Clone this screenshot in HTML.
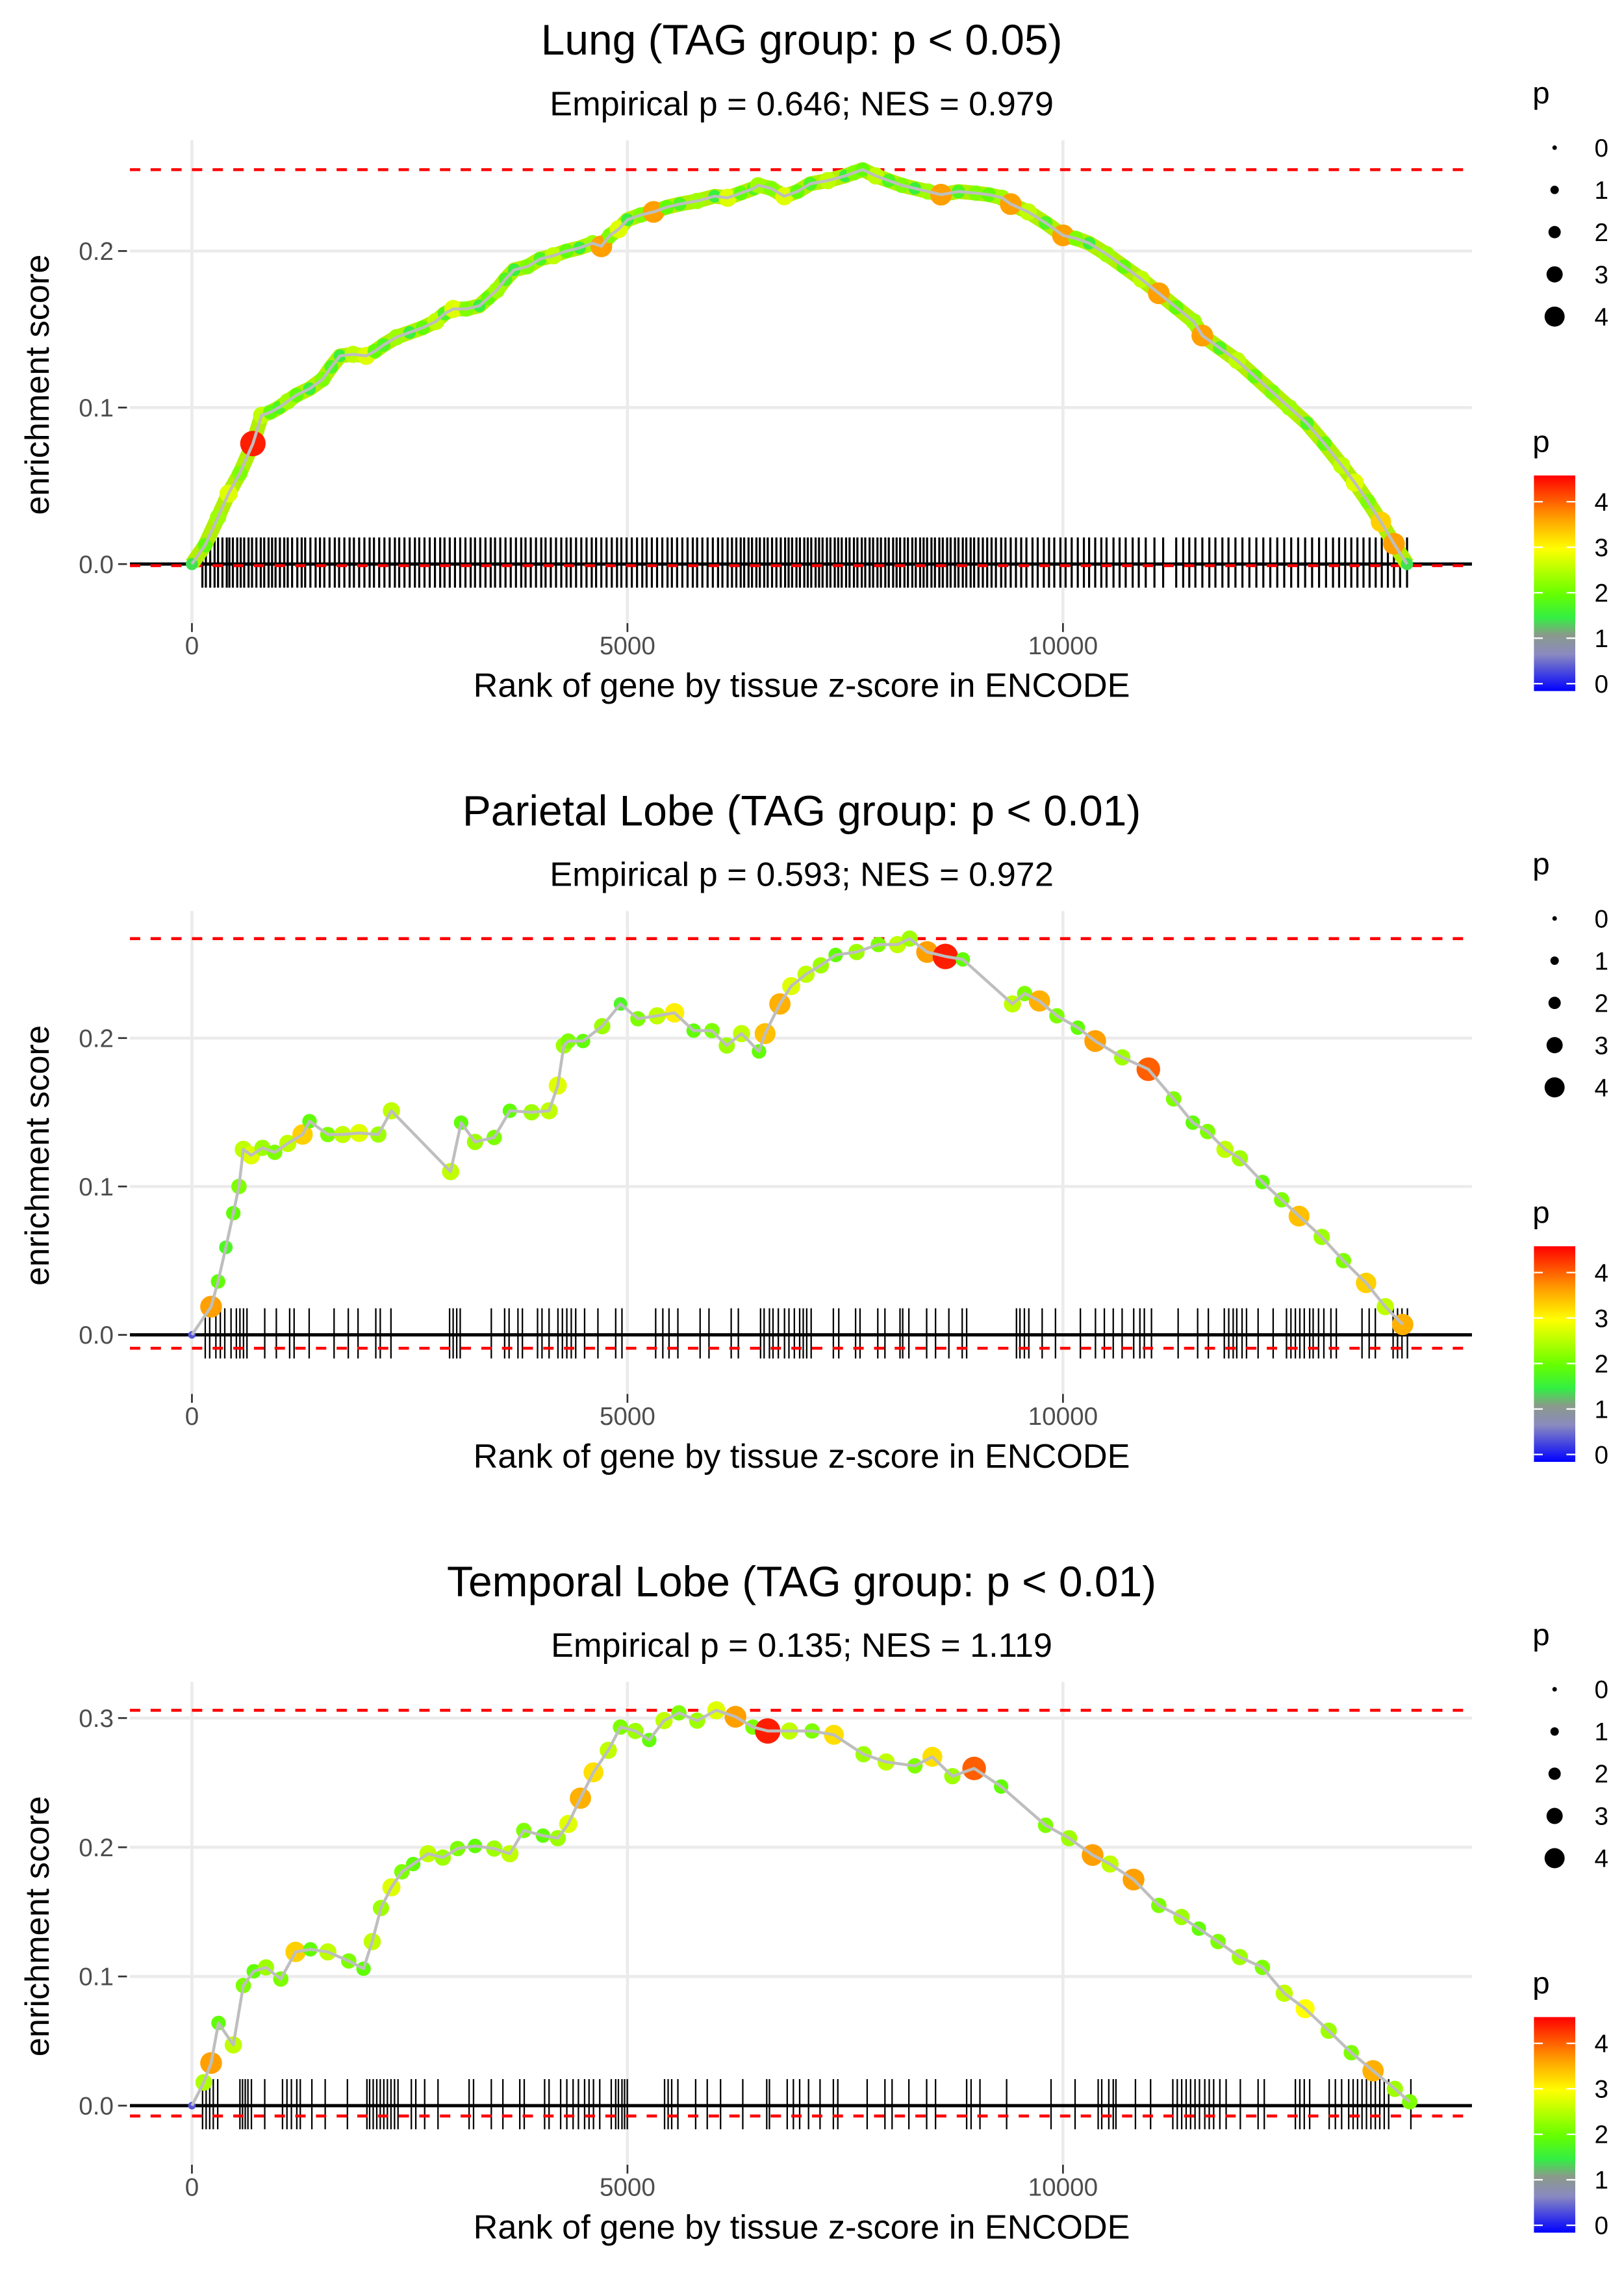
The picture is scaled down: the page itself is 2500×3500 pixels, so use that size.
<!DOCTYPE html>
<html><head><meta charset="utf-8"><style>
html,body{margin:0;padding:0;background:#fff;}
svg{display:block;font-family:"Liberation Sans",sans-serif;}
</style></head><body>
<svg id="root" width="2500" height="3500" viewBox="0 0 1100 1540" xmlns="http://www.w3.org/2000/svg">
<defs>
<linearGradient id="cbar" x1="0" y1="1" x2="0" y2="0">
<stop offset="0" stop-color="#0000ff"/><stop offset="0.17" stop-color="#8a8ac0"/><stop offset="0.26" stop-color="#8a9a8a"/>
<stop offset="0.34" stop-color="#33ee44"/><stop offset="0.45" stop-color="#66ff00"/><stop offset="0.66" stop-color="#ffff00"/>
<stop offset="0.8" stop-color="#ffa000"/><stop offset="1" stop-color="#ff0000"/>
</linearGradient>
</defs>
</svg>
<script>
// ---- data ----
const titles = ["Lung (TAG group: p < 0.05)","Parietal Lobe (TAG group: p < 0.01)","Temporal Lobe (TAG group: p < 0.01)"];
const subtitles = ["Empirical p = 0.646; NES = 0.979","Empirical p = 0.593; NES = 0.972","Empirical p = 0.135; NES = 1.119"];
const xTicks = [0,5000,10000];
const yTicks1 = [0,0.1,0.2];
const yTicks2 = [0,0.1,0.2];
const yTicks3 = [0,0.1,0.2,0.3];
const yTickLabels1 = ["0.0","0.1","0.2"];
const yTickLabels2 = ["0.0","0.1","0.2"];
const yTickLabels3 = ["0.0","0.1","0.2","0.3"];
const esMin = [-0.001,-0.009,-0.008];

const rank1 = [0,150,300,420,550,700,800,900,1000,1100,1200,1350,1500,1600,1700,1850,2000,2100,2200,2350,2500,2650,2800,2900,3000,3150,3300,3400,3500,3600,3700,3850,4000,4150,4300,4450,4600,4700,4800,4900,5000,5150,5300,5450,5600,5800,6000,6150,6300,6450,6500,6650,6800,6950,7100,7300,7500,7600,7700,7850,8000,8150,8300,8450,8600,8800,9000,9150,9300,9400,9600,9800,10000,10150,10300,10500,10700,10900,11100,11300,11500,11600,11800,12000,12200,12400,12600,12800,13000,13200,13350,13500,13650,13800,13950];
const es1 = [0,0.012,0.03,0.045,0.058,0.077,0.095,0.097,0.1,0.104,0.108,0.112,0.118,0.126,0.133,0.134,0.133,0.136,0.14,0.145,0.148,0.151,0.155,0.16,0.163,0.163,0.165,0.17,0.175,0.182,0.188,0.19,0.195,0.197,0.2,0.202,0.205,0.203,0.21,0.214,0.22,0.223,0.225,0.228,0.23,0.232,0.235,0.234,0.237,0.24,0.242,0.24,0.235,0.238,0.243,0.245,0.248,0.25,0.252,0.248,0.245,0.242,0.24,0.238,0.236,0.238,0.237,0.236,0.234,0.23,0.225,0.218,0.21,0.208,0.205,0.198,0.19,0.182,0.173,0.164,0.155,0.146,0.138,0.13,0.12,0.11,0.1,0.09,0.077,0.063,0.052,0.04,0.027,0.013,0];
const p1 = [1.5,2,2.4,2.8,2.2,4.4,2.6,2,1.8,2.4,2,1.6,2.2,1.8,1.6,2.6,2.8,2,1.8,2.4,1.6,2,2.6,1.8,2.8,2.2,1.6,2,2.4,1.8,1.6,2.2,1.8,2.6,2,1.6,2.4,3.6,2.2,2.8,1.6,2.2,3.6,2,1.8,2.4,1.6,2.8,2,1.8,2.4,2.2,2.8,2,1.8,2.6,1.6,2.2,2,2.6,1.8,2.2,1.6,2.4,3.6,1.8,2.2,2,2.4,3.6,2.6,1.8,3.6,2.2,1.6,2.4,2,2.6,3.6,2,2.4,3.6,1.8,2.6,2,2.2,2.4,1.8,2,2.6,2.8,2.2,3.3,3.6,1.5];
const hits1 = [120,160,210,260,300,350,400,430,470,520,560,600,650,690,740,790,830,880,920,960,1010,1060,1100,1150,1210,1260,1300,1360,1420,1470,1520,1580,1640,1690,1750,1810,1860,1920,1980,2040,2090,2150,2210,2270,2330,2380,2440,2500,2560,2610,2670,2730,2790,2850,2900,2960,3020,3080,3140,3200,3250,3310,3370,3430,3480,3540,3600,3660,3720,3780,3830,3890,3950,4010,4060,4120,4180,4240,4300,4350,4410,4470,4530,4590,4640,4700,4760,4820,4880,4930,4990,5050,5110,5170,5220,5280,5340,5400,5460,5510,5570,5630,5690,5750,5800,5860,5920,5980,6040,6090,6150,6200,6250,6300,6340,6390,6430,6480,6520,6570,6610,6660,6710,6760,6810,6850,6890,6940,6980,7030,7070,7110,7160,7200,7240,7290,7330,7380,7420,7460,7510,7550,7600,7640,7690,7730,7780,7820,7870,7910,7960,8000,8050,8090,8130,8180,8220,8270,8310,8360,8400,8440,8490,8530,8580,8620,8670,8710,8760,8800,8850,8890,8940,8980,9030,9080,9130,9180,9230,9290,9340,9400,9460,9520,9580,9650,9710,9780,9840,9900,9970,10030,10100,10170,10240,10300,10370,10440,10500,10580,10650,10720,10800,10870,10950,11050,11150,11300,11380,11450,11520,11600,11680,11750,11830,11900,11980,12060,12140,12220,12300,12380,12460,12540,12620,12700,12780,12860,12940,13020,13100,13170,13240,13310,13380,13450,13520,13590,13660,13730,13800,13870,13950];

const rank2 = [0,220,300,390,475,540,590,680,810,950,1100,1270,1350,1560,1730,1920,2140,2290,2970,3090,3250,3470,3650,3900,4100,4200,4270,4320,4490,4710,4920,5120,5340,5540,5760,5970,6140,6310,6510,6580,6750,6880,7050,7220,7390,7630,7880,8100,8240,8440,8650,8850,9420,9560,9730,9930,10170,10370,10680,10980,11270,11490,11660,11860,12030,12290,12510,12710,12970,13220,13480,13700,13900];
const es2 = [0,0.019,0.036,0.059,0.082,0.1,0.125,0.121,0.126,0.123,0.129,0.135,0.144,0.135,0.135,0.136,0.135,0.151,0.11,0.143,0.13,0.133,0.151,0.15,0.151,0.168,0.195,0.198,0.198,0.208,0.223,0.213,0.215,0.217,0.205,0.205,0.195,0.203,0.191,0.203,0.223,0.235,0.243,0.249,0.256,0.258,0.263,0.263,0.267,0.258,0.255,0.253,0.223,0.23,0.225,0.215,0.207,0.198,0.187,0.179,0.159,0.143,0.137,0.125,0.119,0.103,0.091,0.08,0.066,0.05,0.035,0.019,0.007];
const p2 = [0.5,3.6,2,1.8,2,2.2,2.6,2.8,2.4,2.2,2.6,3.3,2,2.2,2.6,2.8,2.4,2.6,2.6,2,2.4,2.2,2,2.4,2.6,2.8,2.4,2.2,2,2.4,1.8,2.2,2.6,3.1,2,2.2,2.4,2.6,2,3.4,3.5,2.8,2.6,2.4,2,2.4,2.2,2.6,2.4,3.6,4.4,2,2.6,2.2,3.5,2.2,2,3.6,2.4,4,2.2,2,2.2,2.6,2.4,2,2.2,3.4,2.4,2.2,3.3,2.6,3.5];
const hits2 = [153,204,275,326,377,449,510,551,592,632,836,969,1122,1173,1346,1632,1795,1907,2111,2162,2285,2958,2999,3040,3080,3437,3590,3641,3743,3794,3968,4019,4100,4202,4253,4304,4355,4406,4508,4661,4865,4937,5324,5406,5477,5579,5834,5936,6191,6273,6528,6569,6630,6671,6732,6803,6854,6916,6977,7018,7058,7109,7364,7426,7619,7670,7874,7956,8129,8160,8231,8435,8537,8690,8843,8894,9466,9506,9557,9608,9761,9914,10200,10373,10475,10577,10679,10812,10883,10934,11016,11322,11546,11669,11852,11903,11954,11995,12056,12107,12240,12413,12566,12617,12668,12719,12770,12832,12872,12934,12995,13076,13138,13433,13515,13586,13790,13841,13892,13954];

const rank3 = [0,136,220,305,475,590,710,850,1020,1190,1360,1560,1800,1970,2070,2170,2290,2410,2540,2710,2880,3050,3250,3470,3650,3810,4030,4200,4320,4460,4610,4780,4920,5090,5250,5420,5590,5800,6020,6240,6440,6610,6860,7120,7370,7710,7970,8300,8500,8730,8980,9290,9800,10070,10340,10540,10810,11100,11360,11560,11780,12030,12290,12540,12780,13050,13310,13560,13810,13980];
const es3 = [0,0.018,0.033,0.064,0.047,0.093,0.104,0.107,0.098,0.119,0.121,0.119,0.112,0.106,0.127,0.153,0.169,0.181,0.187,0.195,0.192,0.199,0.201,0.199,0.195,0.213,0.209,0.207,0.218,0.238,0.258,0.275,0.293,0.29,0.283,0.298,0.304,0.298,0.306,0.301,0.293,0.29,0.29,0.29,0.287,0.272,0.266,0.263,0.27,0.255,0.261,0.247,0.217,0.207,0.194,0.187,0.175,0.155,0.146,0.137,0.127,0.115,0.107,0.087,0.075,0.058,0.041,0.027,0.013,0.003];
const p3 = [0.5,2.5,3.6,2,2.6,2.2,2,2.4,2.2,3.3,2,2.6,2.2,2,2.6,2.4,2.8,2.2,2,2.6,2.4,2.2,2,2.4,2.6,2.2,2,2.4,2.8,3.5,3.2,2.6,2.2,2.4,2,2.6,2.2,2.4,2.8,3.6,2.2,4.4,2.6,2.2,3.2,2.4,2.6,2.2,3.2,2.4,4,2,2.2,2.4,3.6,2.6,3.6,2.2,2.4,2,2.2,2.4,2.2,2.6,3,2.4,2.2,3.5,2.4,2.2];
const hits3 = [122,163,204,245,296,551,581,612,643,683,836,1040,1091,1142,1204,1244,1377,1530,1785,2009,2040,2081,2122,2162,2203,2244,2285,2326,2366,2519,2570,2672,2825,3182,3233,3437,3570,3764,3815,4049,4100,4233,4304,4376,4437,4508,4559,4610,4682,4814,4865,4896,4937,4967,4998,5426,5467,5508,5579,5783,5916,6069,6324,6599,6630,6834,6905,6977,7079,7211,7364,7415,7752,7956,8038,8231,8435,8537,8894,8945,9047,9353,9863,10139,10404,10445,10526,10577,10608,10832,11006,11261,11312,11363,11414,11465,11516,11567,11628,11679,11730,11801,11873,12036,12240,12311,12668,12719,12770,12832,13056,13127,13199,13280,13331,13382,13433,13484,13535,13586,13637,13688,13739,13994];

const sizeLegendValues = [0,1,2,3,4];
const colorLegendValues = [0,1,2,3,4];

// ---- helpers ----
const NS = "http://www.w3.org/2000/svg";
const root = document.getElementById('root');
function mk(tag, attrs, parent){ const e=document.createElementNS(NS,tag); for(const k in attrs) e.setAttribute(k,attrs[k]); (parent||root).appendChild(e); return e; }
const stops=[[0,[0,0,255]],[0.8,[138,138,192]],[1.2,[138,154,138]],[1.55,[51,238,68]],[2.05,[102,255,0]],[3,[255,255,0]],[3.6,[255,160,0]],[4.58,[255,0,0]]];
function pColor(p){ for(let i=1;i<stops.length;i++){ if(p<=stops[i][0]){ const a=stops[i-1],b=stops[i],t=(p-a[0])/(b[0]-a[0]); const c=a[1].map((v,j)=>Math.round(v+(b[1][j]-v)*t)); return `rgb(${c})`; } } return 'rgb(255,0,0)'; }
function pRadius(p){ return 1.8+1.55*p; }

const panels = [
 {off:0, y0:382, ppu:1060, ticks:yTicks1, labels:yTickLabels1, rank:rank1, es:es1, p:p1, hits:hits1, tw:1.4},
 {off:522, y0:904, ppu:1005, ticks:yTicks2, labels:yTickLabels2, rank:rank2, es:es2, p:p2, hits:hits2, tw:1},
 {off:1044, y0:1426, ppu:875, ticks:yTicks3, labels:yTickLabels3, rank:rank3, es:es3, p:p3, hits:hits3, tw:1}
];

panels.forEach((P,i)=>{
  const g = mk('g',{});
  
  
  const o=P.off;
  const X = r => 130 + r*295/5000;
  const Y = v => P.y0 - v*P.ppu;
  const top=95+o, bot=422+o;
  const t = mk('text',{x:543,y:37+o,'text-anchor':'middle','font-size':29,fill:'#000'},g); t.textContent=titles[i];
   
  const st = mk('text',{x:543,y:78+o,'text-anchor':'middle','font-size':23,fill:'#000'},g); st.textContent=subtitles[i];
   
  P.ticks.forEach((v,k)=>{
    const gl=mk('line',{x1:88,x2:997,y1:Y(v),y2:Y(v),stroke:'#ebebeb','stroke-width':2},g);
     
    mk('line',{x1:80,x2:86,y1:Y(v),y2:Y(v),stroke:'#333','stroke-width':1.2},g);
    const lb=mk('text',{x:77,y:Y(v)+6,'text-anchor':'end','font-size':17,fill:'#4d4d4d'},g); lb.textContent=P.labels[k];
     
  });
  xTicks.forEach(v=>{
    const gl=mk('line',{x1:X(v),x2:X(v),y1:top,y2:bot,stroke:'#ebebeb','stroke-width':2},g);
     
    mk('line',{x1:X(v),x2:X(v),y1:bot,y2:bot+6,stroke:'#333','stroke-width':1.2},g);
    const lb=mk('text',{x:X(v),y:bot+21,'text-anchor':'middle','font-size':17,fill:'#4d4d4d'},g); lb.textContent=String(v);
     
  });
  const xt=mk('text',{x:543,y:472+o,'text-anchor':'middle','font-size':23,fill:'#000'},g); xt.textContent='Rank of gene by tissue z-score in ENCODE';
   
  const yt=mk('text',{x:0,y:0,'text-anchor':'middle','font-size':23,fill:'#000',transform:`translate(33,${(top+bot)/2+2}) rotate(-90)`},g); yt.textContent='enrichment score';
   
  P.hits.forEach(h=>{
    const b=mk('line',{x1:X(h),x2:X(h),y1:P.y0-18,y2:P.y0+16,stroke:'#000','stroke-width':P.tw},g);
     
  });
  const z=mk('line',{x1:88,x2:997,y1:Y(0),y2:Y(0),stroke:'#000','stroke-width':2.2},g);
   
  const mx=Math.max(...P.es);
  const d1=mk('line',{x1:88,x2:997,y1:Y(mx),y2:Y(mx),stroke:'#ff0000','stroke-width':2,'stroke-dasharray':'7 7'},g);
   
  const d2=mk('line',{x1:88,x2:997,y1:Y(esMin[i]),y2:Y(esMin[i]),stroke:'#ff0000','stroke-width':2,'stroke-dasharray':'7 7'},g);
   
  const pts=P.rank.map((r,k)=>X(r)+','+Y(P.es[k])).join(' ');
  if(i===0){ const band=mk('polyline',{points:pts,fill:'none',stroke:'#b0f000','stroke-width':10,'stroke-linejoin':'round'},g);
      }
  P.rank.forEach((r,k)=>{
    const c=mk('circle',{cx:X(r),cy:Y(P.es[k]),r:pRadius(P.p[k]),fill:pColor(P.p[k])},g);
     
  });
  const ln=mk('polyline',{points:pts,fill:'none',stroke:'#bebebe','stroke-width':2,'stroke-linejoin':'round'},g);
   
  const sl=mk('g',{},g);
   
  const sp=mk('text',{x:1038,y:70+o,'font-size':21,fill:'#000'},sl); sp.textContent='p';
  sizeLegendValues.forEach((v,k)=>{
    const yy=100+o+k*28.6;
    const c=mk('circle',{cx:1053,cy:yy,r:pRadius(v)*0.85,fill:'#000'},sl);
     
    const tl=mk('text',{x:1080,y:yy+6,'font-size':17,fill:'#000'},sl); tl.textContent=String(v);
  });
  const cl=mk('g',{},g);
   
  const cp=mk('text',{x:1038,y:306+o,'font-size':21,fill:'#000'},cl); cp.textContent='p';
  const cb=mk('rect',{x:1039,y:322+o,width:28,height:146,fill:'url(#cbar)'},cl);
   
  colorLegendValues.forEach(v=>{
    const yy=463+o-v*30.8;
    mk('line',{x1:1039,x2:1045,y1:yy,y2:yy,stroke:'#fff','stroke-width':1},cl);
    mk('line',{x1:1061,x2:1067,y1:yy,y2:yy,stroke:'#fff','stroke-width':1},cl);
    const tl=mk('text',{x:1080,y:yy+6,'font-size':17,fill:'#000'},cl); tl.textContent=String(v);
  });
});
</script>
</body></html>
